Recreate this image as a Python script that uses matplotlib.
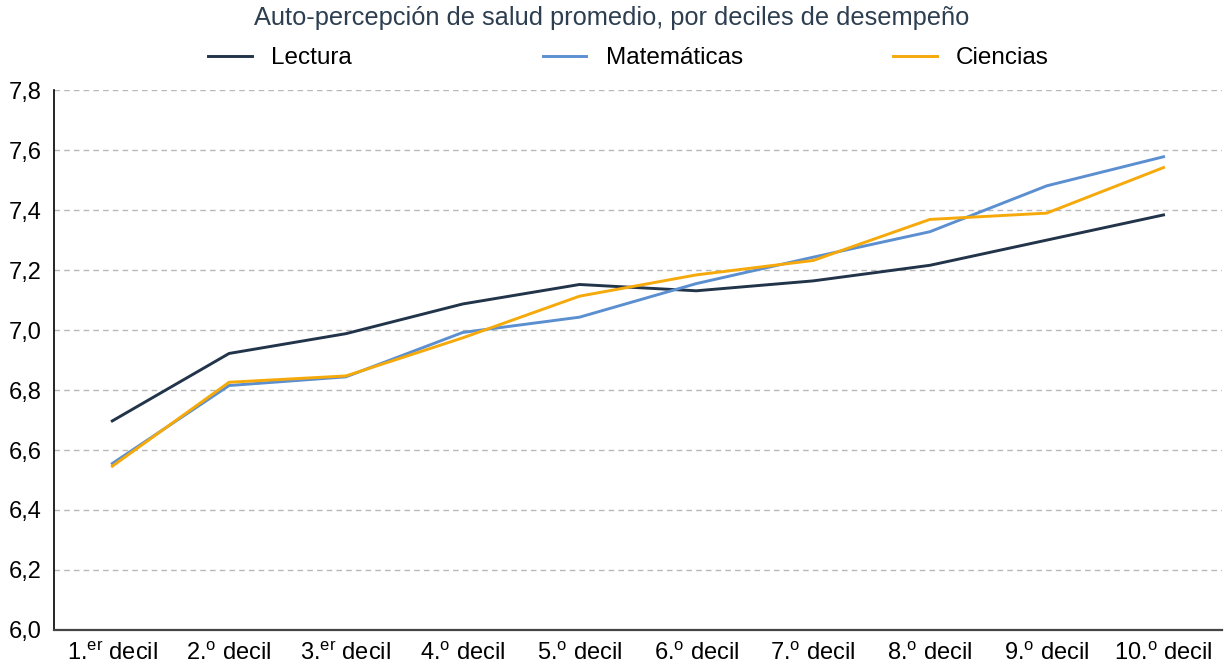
import matplotlib
matplotlib.use("Agg")
import matplotlib.pyplot as plt
from matplotlib.ticker import FuncFormatter

plt.rcParams["font.family"] = ["Liberation Sans", "DejaVu Sans"]
plt.rcParams["mathtext.fontset"] = "custom"
plt.rcParams["mathtext.rm"] = "Liberation Sans"
plt.rcParams["mathtext.it"] = "Liberation Sans"

deciles = [r"1.$^{\mathrm{er}}$ decil", r"2.$^{\mathrm{o}}$ decil", r"3.$^{\mathrm{er}}$ decil",
           r"4.$^{\mathrm{o}}$ decil", r"5.$^{\mathrm{o}}$ decil", r"6.$^{\mathrm{o}}$ decil",
           r"7.$^{\mathrm{o}}$ decil", r"8.$^{\mathrm{o}}$ decil", r"9.$^{\mathrm{o}}$ decil",
           r"10.$^{\mathrm{o}}$ decil"]
lectura = [6.697, 6.922, 6.988, 7.087, 7.152, 7.131, 7.164, 7.216, 7.300, 7.384]
matematicas = [6.555, 6.815, 6.844, 6.992, 7.043, 7.155, 7.243, 7.328, 7.481, 7.578]
ciencias = [6.546, 6.826, 6.847, 6.974, 7.113, 7.184, 7.232, 7.369, 7.390, 7.542]

fig = plt.figure(figsize=(12.25, 6.68), dpi=100)
ax = fig.add_axes([0.044, 0.057, 0.9535, 0.808])

xs = range(len(deciles))
l1, = ax.plot(xs, lectura, color="#22344a", lw=2.1, label="Lectura")
l2, = ax.plot(xs, matematicas, color="#5b8fd0", lw=2.1, label="Matemáticas")
l3, = ax.plot(xs, ciencias, color="#f5a90a", lw=2.1, label="Ciencias")

ax.set_xlim(-0.5, len(deciles) - 0.5)
ax.set_ylim(6.0, 7.8)
ax.set_yticks([6.0 + 0.2 * i for i in range(10)])
ax.yaxis.set_major_formatter(FuncFormatter(lambda v, _: f"{v:.1f}".replace(".", ",")))
ax.set_xticks(list(xs))
ax.set_xticklabels(deciles)
ax.tick_params(axis="both", length=0, labelsize=17, colors="black")
ax.tick_params(axis="y", pad=9)
ax.tick_params(axis="x", pad=9)

ax.grid(axis="y", color="#b8b8b8", linestyle=(0, (4, 3)), linewidth=1.0)
ax.set_axisbelow(True)
for s in ["top", "right"]:
    ax.spines[s].set_visible(False)
ax.spines["left"].set_color("black")
ax.spines["left"].set_linewidth(1.2)
ax.spines["bottom"].set_color("#444444")
ax.spines["bottom"].set_linewidth(1.6)

fig.text(0.499, 0.973, "Auto-percepción de salud promedio, por deciles de desempeño",
         ha="center", va="center", fontsize=18.3, color="#2c3e50")

# one legend entry per series, spread across the top
for line, x in [(l1, 0.170), (l2, 0.443), (l3, 0.729)]:
    fig.legend(handles=[line], loc="center left", bbox_to_anchor=(x, 0.913),
               frameon=False, fontsize=17.5, handlelength=1.8, handletextpad=0.8,
               borderpad=0, borderaxespad=0)

fig.savefig("out.png", dpi=100)
